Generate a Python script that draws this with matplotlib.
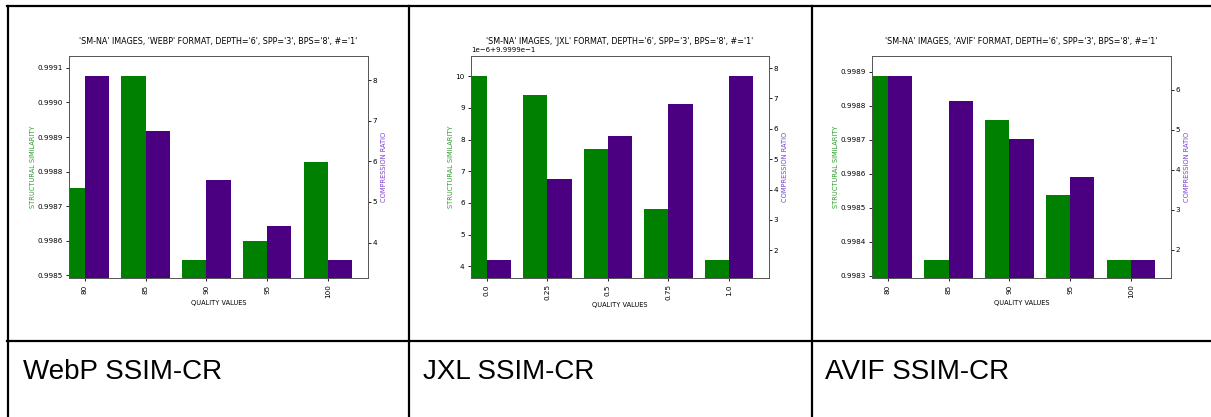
import matplotlib
matplotlib.use("Agg")
import matplotlib.pyplot as plt
import numpy as np
from matplotlib.lines import Line2D

W, H = 1211, 417

webp_quality = ["80", "85", "90", "95", "100"]
webp_ssim = [0.998751, 0.999076, 0.998544, 0.998600, 0.998828]
webp_cr = [8.10, 6.76, 5.55, 4.42, 3.57]

jxl_quality = ["0.0", "0.25", "0.5", "0.75", "1.0"]
jxl_ssim = [1.0000000, 0.9999994, 0.9999977, 0.9999958, 0.9999942]
jxl_cr = [1.68, 4.33, 5.76, 6.82, 7.73]

avif_quality = ["80", "85", "90", "95", "100"]
avif_ssim = [0.998887, 0.998347, 0.998757, 0.998536, 0.998346]
avif_cr = [6.34, 5.72, 4.78, 3.81, 1.74]

formats = ["WEBP", "JXL", "AVIF"]
captions = ["WebP SSIM-CR", "JXL SSIM-CR", "AVIF SSIM-CR"]
panels = [
    (webp_quality, webp_ssim, webp_cr),
    (jxl_quality, jxl_ssim, jxl_cr),
    (avif_quality, avif_ssim, avif_cr),
]

# axes boxes in pixels: left, right, top, bottom
boxes = [(69, 368, 56, 278), (471, 769, 56, 278), (872, 1171, 56, 278)]
cap_x = [23, 423, 825]

fig = plt.figure(figsize=(W / 100, H / 100), dpi=100)


def fx(px):
    return px / W


def fy(py):
    return 1 - py / H


def pad_lim(vals):
    lo, hi = min(vals), max(vals)
    r = hi - lo
    return lo - 0.098 * r, hi + 0.11 * r


for i, (quality, ssim, cr) in enumerate(panels):
    l, r, t, b = boxes[i]
    ax = fig.add_axes([fx(l), fy(b), fx(r - l), (b - t) / H])
    ax2 = ax.twinx()
    x = np.arange(len(quality))
    ax.bar(x - 0.2, ssim, width=0.4, color="green")
    ax2.bar(x + 0.2, cr, width=0.4, color="indigo")
    ax.set_ylim(*pad_lim(ssim))
    ax2.set_ylim(*pad_lim(cr))
    ax.set_xlim(-0.26, len(quality) - 1 + 0.66)
    ax.set_xticks(x)
    ax.set_xticklabels(quality, rotation=90)
    ax.tick_params(labelsize=5.2, length=2.5, width=0.6, pad=2)
    ax2.tick_params(labelsize=5.2, length=2, width=0.6, pad=1.2)
    ax.yaxis.get_offset_text().set_fontsize(5.0)
    for a in (ax, ax2):
        for s in a.spines.values():
            s.set_linewidth(0.6)
            s.set_color("#555555")
    ax.set_xlabel("QUALITY VALUES", fontsize=4.8, labelpad=1.5)
    ax.set_ylabel("STRUCTURAL SIMILARITY", fontsize=4.8, color="#2ca02c", labelpad=1)
    ax2.set_ylabel("COMPRESSION RATIO", fontsize=4.8, color="#7b3fd0", labelpad=2.5)
    ax.set_title("'SM-NA' IMAGES, '%s' FORMAT, DEPTH='6', SPP='3', BPS='8', #='1'" % formats[i],
                 fontsize=5.8, y=1.0, pad=8.5)
    fig.text(fx(cap_x[i]), fy(372), captions[i], fontsize=20,
             family="Liberation Sans", va="center", ha="left")

# table grid
lw = 1.6
fig.add_artist(Line2D([fx(7), 1], [fy(6), fy(6)], color="black", lw=lw))
fig.add_artist(Line2D([fx(7), 1], [fy(341), fy(341)], color="black", lw=lw))
for xv in (8, 409, 812):
    fig.add_artist(Line2D([fx(xv), fx(xv)], [fy(6), 0], color="black", lw=lw))

fig.savefig("out.png", dpi=100)
